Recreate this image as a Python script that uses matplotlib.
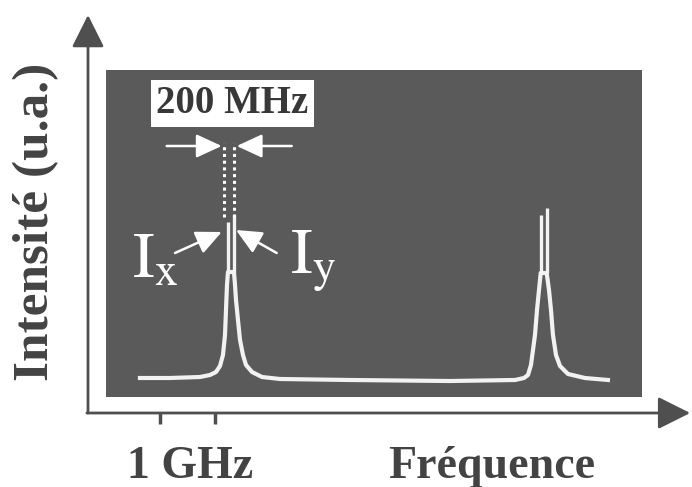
import numpy as np
import matplotlib.pyplot as plt
from matplotlib.patches import Rectangle

plt.rcParams['mathtext.fontset'] = 'stix'

# trace (frequency in GHz, intensity in a.u.)
freq = [0.636, 1.182, 1.727, 1.909, 2.018, 2.091, 2.145, 2.182, 2.2, 2.218, 2.236,
        2.345, 2.364, 2.382, 2.418, 2.455, 2.509, 2.564, 2.673, 2.855, 3.182, 4.455,
        6.273, 7.455, 7.618, 7.691, 7.745, 7.782, 7.818, 7.855, 7.891, 7.922,
        8.031, 8.073, 8.109, 8.145, 8.2, 8.273, 8.418, 8.727, 9.145]
intens = [0.34, 0.34, 0.35, 0.37, 0.40, 0.46, 0.57, 0.77, 1.02, 1.27, 1.40,
          1.40, 1.27, 1.12, 0.92, 0.72, 0.57, 0.47, 0.40, 0.35, 0.33, 0.32,
          0.31, 0.32, 0.34, 0.37, 0.47, 0.62, 0.77, 1.02, 1.22, 1.39,
          1.39, 1.22, 1.02, 0.77, 0.57, 0.46, 0.38, 0.34, 0.32]

# split tops of the two modes (Ix, Iy) for each peak
split_x = [2.236, 2.345, 7.922, 8.031]
split_lo = [1.40, 1.40, 1.39, 1.39]
split_hi = [1.90, 1.97, 1.97, 2.04]

dotted_x = [2.164, 2.345]
tick_x = [1.0, 2.0]

dark = '#434343'
axcol = '#4f4f4f'
serif = ['Liberation Serif', 'DejaVu Serif']

fig = plt.figure(figsize=(6.92, 4.87), dpi=100)
ax = fig.add_axes([0, 0, 1, 1])
ax.set_xlim(-1.909, 10.673)
ax.set_ylim(-0.75, 4.12)
ax.axis('off')

# scope screen
ax.add_patch(Rectangle((0.018, 0.15), 9.746, 3.27, fc='#5a5a5a', ec='none', zorder=1))

ax.plot(freq, intens, color='#f2f2f2', lw=3.0, solid_joinstyle='round', zorder=3)
ax.vlines(split_x, split_lo, split_hi, color='#f2f2f2', lw=2.4, zorder=3)

# dotted guides + 200 MHz arrows
ax.vlines(dotted_x, 1.95, 2.69, color='white', lw=2.2, linestyles=(0, (1, 1.2)), zorder=3)
arr = dict(arrowstyle='-|>,head_length=1.3,head_width=0.6', color='white', lw=1.8,
           shrinkA=0, shrinkB=0, mutation_scale=12)
ax.annotate('', xy=(2.122, 2.66), xytext=(1.122, 2.66), arrowprops=arr, zorder=4)
ax.annotate('', xy=(2.395, 2.66), xytext=(3.395, 2.66), arrowprops=arr, zorder=4)
ax.annotate('', xy=(2.122, 1.80), xytext=(1.273, 1.59), arrowprops=arr, zorder=4)
ax.annotate('', xy=(2.382, 1.82), xytext=(3.122, 1.59), arrowprops=arr, zorder=4)

ax.text(2.318, 3.085, '200 MHz', family=serif, weight='bold', fontsize=28, color='#383838',
        ha='center', va='center', zorder=5,
        bbox=dict(boxstyle='square,pad=0.14', fc='white', ec='none'))

ax.text(0.50, 1.35, r'$\mathrm{I_x}$', fontsize=47, color='white', ha='left', va='baseline', zorder=5)
ax.text(3.36, 1.39, r'$\mathrm{I_y}$', fontsize=47, color='white', ha='left', va='baseline', zorder=5)

# axes with arrow heads
axarr = dict(arrowstyle='-|>,head_length=1.0,head_width=0.5', color=axcol, lw=2.0,
             shrinkA=0, shrinkB=0, mutation_scale=20)
ax.annotate('', xy=(-0.309, 3.97), xytext=(-0.309, -0.01), arrowprops=axarr)
ax.annotate('', xy=(10.64, -0.01), xytext=(-0.33, -0.01), arrowprops=axarr)
ax.vlines(tick_x, -0.12, -0.01, color=axcol, lw=2.5)

ax.text(1.545, -0.66, '1 GHz', family=serif, weight='bold', fontsize=33, color=dark,
        ha='center', va='baseline')
ax.text(7.036, -0.66, 'Fréquence', family=serif, weight='bold', fontsize=33, color=dark,
        ha='center', va='baseline')
ax.text(-1.255, 1.9, 'Intensité (u.a.)', family=serif, weight='bold', fontsize=37, color=dark,
        ha='center', va='center', rotation=90)

fig.savefig('out.png', dpi=100)
